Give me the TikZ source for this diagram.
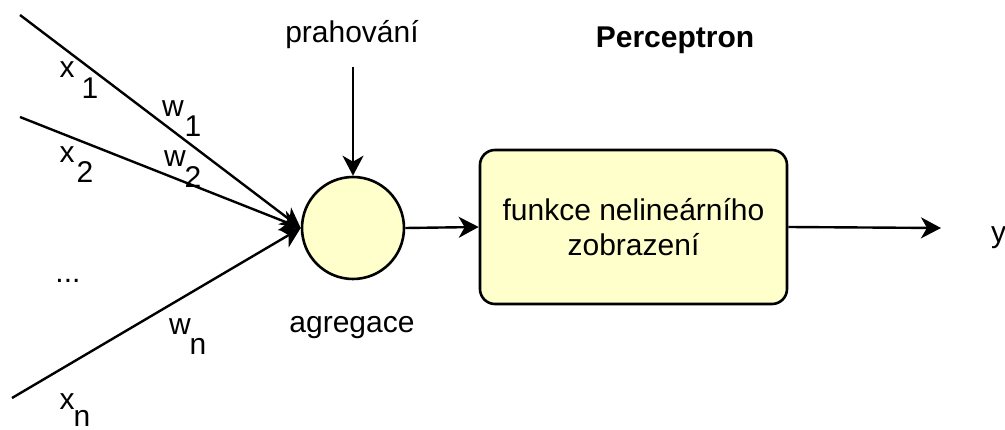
\documentclass[tikz,border=0pt]{standalone}
\usepackage{fontspec}
\setmainfont{Liberation Sans}
\usetikzlibrary{arrows.meta}
\definecolor{paleyellow}{HTML}{FFFFCC}
\begin{document}
\begin{tikzpicture}[x=1pt,y=-1pt,
  every node/.style={font=\fontsize{30}{35}\selectfont},
  lbl/.style={anchor=base,inner sep=0pt},
  wire/.style={line width=2.4pt,-{Stealth[length=20pt,width=21pt,inset=6pt]}},
  unit/.style={draw,line width=2.6pt,fill=paleyellow}]
\useasboundingbox (0,0) rectangle (1005,430);

% neuron parts
\node[unit,circle,minimum size=102pt,inner sep=0pt] (agg) at (353,228) {};
\node[unit,rounded corners=15pt,minimum width=307pt,minimum height=154pt,
      align=center,inner sep=0pt] (act) at (633.5,227) {funkce nelineárního\\zobrazení};

% inputs
\coordinate (in1) at (20,15);
\coordinate (in2) at (20,117);
\coordinate (inn) at (12,398);
\coordinate (thr) at (353,67);
\coordinate (out) at (941,228);

\draw[wire] (in1) -- (agg.west);
\draw[wire] (in2) -- (agg.west);
\draw[wire] (inn) -- (agg.west);
\draw[wire] (thr) -- (agg.north);
\draw[wire] (agg.east) -- (act.west);
\draw[wire] (act.east) -- (out);

% labels
\node[lbl] (x1) at (67,78) {x};   \node[lbl] (x1i) at (90,99) {1};
\node[lbl] (w1) at (173,117) {w}; \node[lbl] (w1i) at (193,137) {1};
\node[lbl] (x2) at (67,163) {x};  \node[lbl] (x2i) at (85,183) {2};
\node[lbl] (w2) at (175,167) {w}; \node[lbl] (w2i) at (193,188) {2};
\node[lbl] (dots) at (68,283) {...};
\node[lbl] (wn) at (180,335) {w}; \node[lbl] (wni) at (198,355) {n};
\node[lbl] (xn) at (67,410) {x};  \node[lbl] (xni) at (82,427) {n};

\node[lbl] (thrl) at (352,43) {prahování};
\node[lbl] (aggl) at (352,333) {agregace};
\node[lbl,font=\fontsize{30}{35}\selectfont\bfseries] (title) at (675,48) {Perceptron};
\node[lbl,anchor=base west] (yl) at (991,243) {y};
\end{tikzpicture}
\end{document}
